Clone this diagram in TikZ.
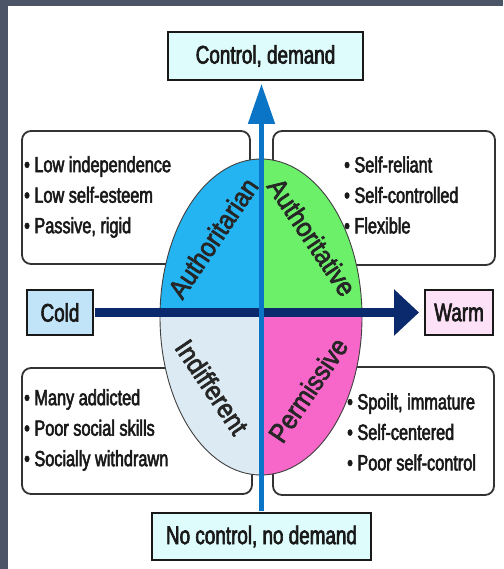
\documentclass[tikz,border=0pt]{standalone}
\usepackage{fontspec}
\setmainfont[FakeStretch=0.74, FakeBold=2.5]{Liberation Sans}
\newfontfamily\stylefont[FakeStretch=0.9, FakeBold=2.5]{Liberation Sans}
\usetikzlibrary{arrows.meta, positioning}

\definecolor{frame}{HTML}{4B5567}
\definecolor{axisblue}{HTML}{0A74C6}
\definecolor{axisnavy}{HTML}{0B2A6E}
\definecolor{authoritarian}{HTML}{25B4F2}
\definecolor{authoritative}{HTML}{6CF06A}
\definecolor{indifferent}{HTML}{DCEBF3}
\definecolor{permissive}{HTML}{F767C9}
\definecolor{poleblue}{HTML}{C2E4F9}
\definecolor{polepink}{HTML}{FCE1F7}
\definecolor{polecyan}{HTML}{DFFCFC}

\begin{document}
\begin{tikzpicture}[x=1pt, y=-1pt,
  pole/.style={rectangle, draw=black!90, line width=2pt, inner sep=0pt, text=black!90, font=\fontsize{25.5}{25.5}\selectfont},
  traits/.style={rectangle, rounded corners=9pt, draw=black!80, line width=1.8pt, fill=white, inner sep=0pt},
  items/.style={align=left, inner sep=0pt, anchor=west, text=black!90, font=\fontsize{22}{30.5}\selectfont},
  quadname/.style={inner sep=0pt, text=black!85, font=\stylefont\fontsize{27}{27}\selectfont}]

  % page frame
  \fill[frame] (0,0) rectangle (503,569);
  \fill[white] (8,6) rectangle (503,569);
  \useasboundingbox (0,0) rectangle (503,569);

  % trait boxes
  \node[traits, minimum width=228pt, minimum height=133pt] (tlbox) at (136,197.5) {};
  \node[traits, minimum width=222pt, minimum height=134pt] (trbox) at (384,198) {};
  \node[traits, minimum width=230pt, minimum height=126pt] (blbox) at (137,431) {};
  \node[traits, minimum width=221pt, minimum height=128pt] (brbox) at (383.5,431) {};

  \node[items] (tllist) at (24,197) {• Low independence\\• Low self-esteem\\• Passive, rigid};
  \node[items] (trlist) at (344,195) {• Self-reliant\\• Self-controlled\\• Flexible};
  \node[items] (bllist) at (24,430) {• Many addicted\\• Poor social skills\\• Socially withdrawn};
  \node[items] (brlist) at (347,432) {• Spoilt, immature\\• Self-centered\\• Poor self-control};

  % the four quadrants
  \coordinate (split) at (261,312.5);
  \begin{scope}
    \clip (261,317) ellipse [x radius=101pt, y radius=158pt];
    \fill[authoritarian] (split) rectangle ++(-110,-170);
    \fill[authoritative] (split) rectangle ++(110,-170);
    \fill[indifferent] (split) rectangle ++(-110,170);
    \fill[permissive] (split) rectangle ++(110,170);
  \end{scope}
  \draw[black!75, line width=0.9pt] (261,317) ellipse [x radius=101pt, y radius=158pt];

  \node[quadname, rotate=56] (tlname) at (213,238) {Authoritarian};
  \node[quadname, rotate=-56] (trname) at (312,237) {Authoritative};
  \node[quadname, rotate=-56] (blname) at (212,387) {Indifferent};
  \node[quadname, rotate=56] (brname) at (308,390) {Permissive};

  % poles
  \node[pole, fill=polecyan, minimum width=195pt, minimum height=48pt] (demand) at (265.5,56) {Control, demand};
  \node[pole, fill=polecyan, minimum width=219pt, minimum height=47pt] (nodemand) at (261.5,536.5) {No control, no demand};
  \node[pole, fill=poleblue, minimum width=66pt, minimum height=45pt] (cold) at (60,312.5) {Cold};
  \node[pole, fill=polepink, minimum width=68pt, minimum height=45pt] (warm) at (459,312.5) {Warm};

  % axes
  \draw[axisnavy, line width=9pt, -{Triangle[length=25pt, width=45pt]}, shorten <=1pt, shorten >=5pt] (cold) -- (warm);
  \draw[axisblue, line width=5pt, -{Triangle[length=40pt, width=26pt]}, shorten <=1pt, shorten >=3pt]
    (nodemand.north) -- (nodemand.north |- demand.south);
\end{tikzpicture}
\end{document}
